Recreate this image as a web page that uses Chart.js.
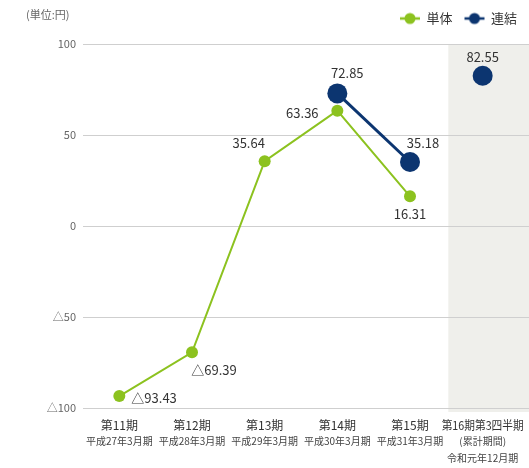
<!DOCTYPE html>
<html><head><meta charset="utf-8">
<script src="https://cdn.jsdelivr.net/npm/chart.js@4"></script>
<style>html,body{margin:0;padding:0;background:#fff}#wrap{width:529px;height:468px}</style>
</head><body><div id="wrap"><canvas id="c"></canvas></div>
<script>
const periods = [["第11期","平成27年3月期"],["第12期","平成28年3月期"],["第13期","平成29年3月期"],["第14期","平成30年3月期"],["第15期","平成31年3月期"],["第16期第3四半期","(累計期間)","令和元年12月期"]];
const standalone = [-93.43, -69.39, 35.64, 63.36, 16.31, null];
const consolidated = [null, null, null, 72.85, 35.18, 82.55];
const yTicks = [-100, -50, 0, 50, 100];
const unitLabel = "(単位:円)";

const GREEN = '#8cc21f', NAVY = '#0c3570';
const FONT = "'Noto Sans CJK JP','Noto Sans',sans-serif";
function fmt(v){ return v < 0 ? '△' + Math.abs(v) : String(v); }

function legendIcon(color, r){
  const c = document.createElement('canvas'); c.width = 22; c.height = 14;
  const g = c.getContext('2d');
  g.strokeStyle = color; g.lineWidth = 2.5;
  g.beginPath(); g.moveTo(1,7); g.lineTo(21,7); g.stroke();
  g.fillStyle = color; g.beginPath(); g.arc(11,7,r,0,Math.PI*2); g.fill();
  return c;
}
const icons = [legendIcon(GREEN,5.5), legendIcon(NAVY,5.5)];

// label placement: [dx, dy, align]
const placeS = [[12,2,'left'],[22,18,'center'],[-16,-18,'center'],[-35,2,'center'],[0,18,'center'],null];
const placeC = [null,null,null,[10,-20,'center'],[13,-19,'center'],[0,-19,'center']];

const bandPlugin = {
  id:'band',
  afterInit(chart){
    const lg = chart.legend;
    if (lg){
      const f = lg.fit;
      lg.fit = function(){ f.apply(this, arguments); this.height += 9; };
    }
  },
  beforeDraw(chart){
    const x = chart.scales.x, y = chart.scales.y, ctx = chart.ctx;
    const w = x.getPixelForValue(1) - x.getPixelForValue(0);
    const left = x.getPixelForValue(5) - w/2 + 2;
    ctx.save(); ctx.fillStyle = '#efefeb';
    ctx.fillRect(left, y.top, chart.width - left, y.bottom - y.top + 4);
    ctx.fillStyle = '#666'; ctx.font = "11px " + FONT; ctx.textBaseline='middle';
    ctx.fillText(unitLabel, 26, 15);
    ctx.restore();
  },
  beforeDatasetsDraw(chart){
    const y = chart.scales.y, ctx = chart.ctx, ca = chart.chartArea;
    ctx.save(); ctx.strokeStyle = '#cfcfcf'; ctx.lineWidth = 1;
    yTicks.forEach(v=>{
      const py = Math.round(y.getPixelForValue(v) - 0.5) + 0.5;
      ctx.beginPath(); ctx.moveTo(ca.right - 1, py); ctx.lineTo(chart.width, py); ctx.stroke();
    });
    ctx.restore();
  },
  afterDraw(chart){
    const x = chart.scales.x, ctx = chart.ctx;
    ctx.save(); ctx.textAlign = 'center'; ctx.textBaseline = 'middle';
    const ys = [425, 441, 458];
    periods.forEach((lines, i)=>{
      const px = x.getPixelForValue(i);
      lines.forEach((t, j)=>{
        ctx.font = (j === 0 ? "12px " : "10px ") + FONT;
        ctx.fillStyle = j === 0 ? '#333' : '#444';
        ctx.fillText(t, px, ys[j], 82);
      });
    });
    ctx.restore();
  }
};
const labelPlugin = {
  id:'vlabels',
  afterDatasetsDraw(chart){
    const ctx = chart.ctx; ctx.save();
    ctx.font = "13px " + FONT; ctx.fillStyle = '#333'; ctx.textBaseline = 'middle';
    [[0,standalone,placeS],[1,consolidated,placeC]].forEach(([di,arr,pl])=>{
      const meta = chart.getDatasetMeta(di);
      arr.forEach((v,i)=>{
        if (v==null || !pl[i]) return;
        const p = meta.data[i];
        ctx.textAlign = pl[i][2];
        ctx.fillText(fmt(v), p.x + pl[i][0], p.y + pl[i][1]);
      });
    });
    ctx.restore();
  }
};

new Chart(document.getElementById('c'), {
  type:'line',
  data:{
    labels: periods,
    datasets:[
      {label:'単体', data: standalone, borderColor: GREEN, backgroundColor: GREEN, borderWidth:2, pointRadius:6, pointHoverRadius:6, pointBorderWidth:0, tension:0},
      {label:'連結', data: consolidated, borderColor: NAVY, backgroundColor: NAVY, borderWidth:3, pointRadius:10, pointHoverRadius:10, pointBorderWidth:0, tension:0,
       segment:{borderColor: ctx => ctx.p1DataIndex === 5 ? 'rgba(0,0,0,0)' : NAVY}}
    ]
  },
  options:{
    responsive:true, maintainAspectRatio:false, animation:false,
    layout:{padding:{top:0,right:0,left:0,bottom:0}},
    plugins:{
      tooltip:{enabled:false},
      legend:{position:'top', align:'end',
        labels:{usePointStyle:true, pointStyleWidth:20, color:'#333', font:{family:FONT,size:13}, padding:12,
          generateLabels(chart){
            return chart.data.datasets.map((d,i)=>({text:d.label, pointStyle: icons[i], fillStyle:d.borderColor, strokeStyle:d.borderColor, fontColor:'#333', lineWidth:0, datasetIndex:i, hidden:false}));
          }}
      }
    },
    scales:{
      x:{offset:true, grid:{display:false}, border:{display:false},
        ticks:{display:false},
        afterFit(s){ s.height = 60; }
      },
      y:{min:-100, max:100, border:{display:false},
        grid:{color:'#cfcfcf', drawTicks:false, lineWidth:1},
        afterBuildTicks(s){ s.ticks = yTicks.map(v=>({value:v})); },
        ticks:{color:'#666', font:{family:FONT,size:11}, padding:7, callback:v=>fmt(v)},
        afterFit(s){ s.width = 83; }
      }
    }
  },
  plugins:[bandPlugin, labelPlugin]
});
</script></body></html>
